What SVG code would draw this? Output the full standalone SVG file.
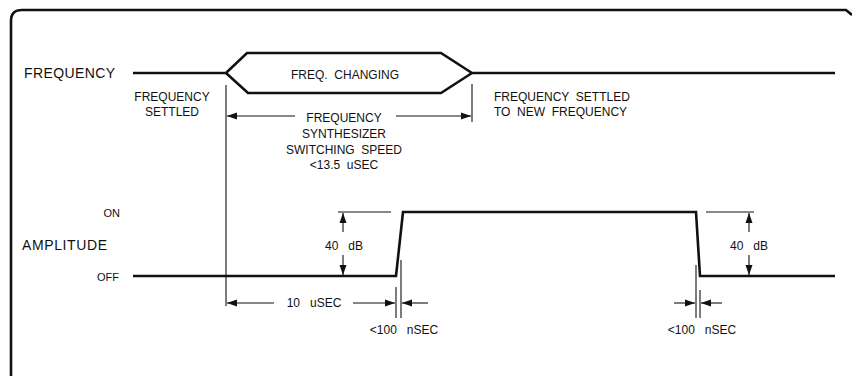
<svg xmlns="http://www.w3.org/2000/svg" width="852" height="376" viewBox="0 0 852 376">
<style>
text{font-family:"Liberation Sans",Arial,sans-serif;fill:#111;white-space:pre}
.big{font-size:14px}
.sm{font-size:12px}
.xs{font-size:11px}
.sig{fill:none;stroke:#111;stroke-width:2.6;stroke-linejoin:miter}
.thin{fill:none;stroke:#111;stroke-width:1.1}
.dim{fill:none;stroke:#111;stroke-width:1.1;marker-end:url(#ah)}
</style>
<defs>
<marker id="ah" markerUnits="userSpaceOnUse" markerWidth="12" markerHeight="10" refX="10" refY="4.5" orient="auto">
<path d="M0,1 L10,4.5 L0,8 Z" fill="#111"/>
</marker>
</defs>
<rect width="852" height="376" fill="#fff"/>
<path d="M11,376 V21 Q11,10 22,10 H846 L852,15" fill="none" stroke="#111" stroke-width="2.6"/>

<g id="labels">
<text class="big" x="24" y="78" textLength="91">FREQUENCY</text>
<text class="big" x="22" y="250" textLength="85">AMPLITUDE</text>
<text class="xs" x="120" y="217" text-anchor="end">ON</text>
<text class="xs" x="119" y="281" text-anchor="end">OFF</text>
</g>

<g id="frequency-signal">
<path class="sig" d="M133,73 H226 L247,53 H441 L472,73 H835"/>
<path class="sig" d="M226,73 L248,93 H441 L472,73"/>
<text class="sm" x="345" y="79" text-anchor="middle">FREQ.  CHANGING</text>
</g>

<g id="freq-settled">
<text class="sm" x="172" y="101" text-anchor="middle">FREQUENCY</text>
<text class="sm" x="172" y="116" text-anchor="middle">SETTLED</text>
</g>

<g id="freq-settled-new">
<text class="sm" x="494" y="101">FREQUENCY  SETTLED</text>
<text class="sm" x="494" y="116">TO  NEW  FREQUENCY</text>
</g>

<g id="switching-speed">
<text class="sm" x="344" y="122" text-anchor="middle">FREQUENCY</text>
<text class="sm" x="344" y="138" text-anchor="middle">SYNTHESIZER</text>
<text class="sm" x="344" y="154" text-anchor="middle">SWITCHING  SPEED</text>
<text class="sm" x="344" y="169" text-anchor="middle">&lt;13.5  uSEC</text>
</g>

<g id="amplitude-signal">
<path class="sig" d="M133,276 H396 L403,212 H696 L700,276 H835"/>
</g>

<g id="dB-left">
<text class="sm" x="344" y="250" text-anchor="middle">40   dB</text>
</g>
<g id="dB-right">
<text class="sm" x="749" y="250" text-anchor="middle">40   dB</text>
</g>
<g id="usec-10">
<text class="sm" x="314" y="307" text-anchor="middle">10   uSEC</text>
</g>
<g id="nsec-rise">
<text class="sm" x="404" y="334" text-anchor="middle">&lt;100   nSEC</text>
</g>
<g id="nsec-fall">
<text class="sm" x="702" y="334" text-anchor="middle">&lt;100   nSEC</text>
</g>

<g id="connectors">
<path class="thin" d="M226,85 V306"/>
<path class="thin" d="M472,84 V122"/>
<path class="thin" d="M338,212 H391"/>
<path class="thin" d="M706,212 H754"/>
<path class="thin" d="M396,287 V318"/>
<path class="thin" d="M401,260 V318"/>
<path class="thin" d="M696,265 V318"/>
<path class="thin" d="M700,290 V318"/>
<path class="dim" d="M295,116 H227"/>
<path class="dim" d="M396,116 H471"/>
<path class="dim" d="M343,232 V213"/>
<path class="dim" d="M343,255 V275"/>
<path class="dim" d="M749,232 V213"/>
<path class="dim" d="M749,255 V275"/>
<path class="dim" d="M274,303 H227"/>
<path class="dim" d="M353,303 H395"/>
<path class="dim" d="M428,303 H402"/>
<path class="dim" d="M674,303 H695"/>
<path class="dim" d="M722,303 H701"/>
</g>
</svg>
